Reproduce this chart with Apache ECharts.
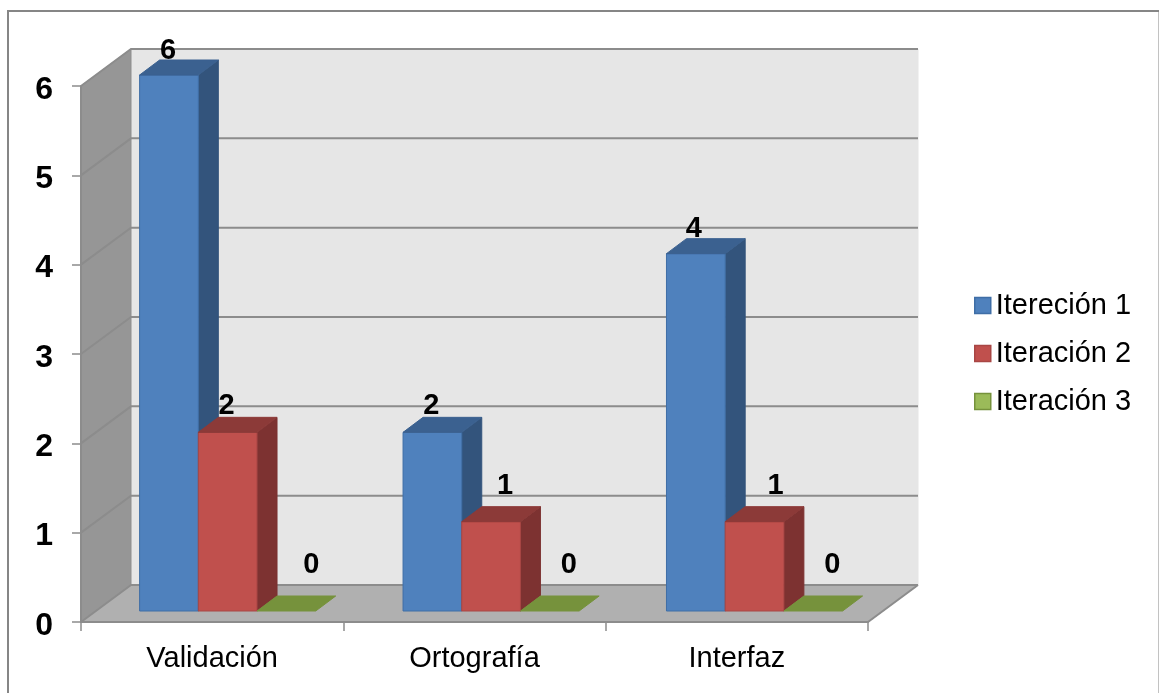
<!DOCTYPE html>
<html>
<head>
<meta charset="utf-8">
<style>html,body{margin:0;padding:0;background:#fff}#chart{width:1159px;height:693px}</style>
<script src="https://cdn.jsdelivr.net/npm/echarts@6/dist/echarts.min.js"></script>
</head>
<body>
<div id="chart"></div>
<script>
// Defectos por iteración y por área
const categories = ['Validación', 'Ortografía', 'Interfaz'];
const seriesNames = ['Itereción 1', 'Iteración 2', 'Iteración 3'];
const iteracion1 = [6, 2, 4];
const iteracion2 = [2, 1, 1];
const iteracion3 = [0, 0, 0];
const yTicks = [0, 1, 2, 3, 4, 5, 6];

// Oblique projection of the chart box and of each column
const BOX_DX = 50, BOX_DY = -37;
const BAR_INSET_X = 15.5, BAR_INSET_Y = -11;
const BAR_DX = 20, BAR_DY = -15;
const BAR_WIDTH = 58.7;
const BAR_GROUP_DRIFT = 1.1;

// Hand-placed value labels, offset from the centre of each column's top edge
const labelOffsets = [
  [[-1, -24], [-1, -26], [25, -46]],
  [[-1, -26], [14, -36], [19, -46]],
  [[-2, -25], [21, -36], [19, -46]]
];

const palette = [
  { front: '#4f81bd', side: '#33547c', top: '#3b6190', edge: '#3f6ea6' },
  { front: '#c0504d', side: '#7d3231', top: '#8c3a38', edge: '#a84644' },
  { front: '#9bbb59', side: '#5f7530', top: '#76923c', edge: '#76923c' }
];

function poly(points, fill, stroke) {
  return {
    type: 'polygon',
    shape: { points },
    style: { fill, stroke: stroke || fill, lineWidth: 1 }
  };
}

function renderBox(params, api) {
  const o = api.coord([0, 0]);
  const t = api.coord([0, yTicks[yTicks.length - 1]]);
  const band = api.coord([1, 0])[0] - o[0];
  const x0 = o[0] - band / 2;
  const y0 = o[1];
  const x1 = x0 + band * categories.length;
  const yt = t[1];
  const dx = BOX_DX, dy = BOX_DY;
  const children = [
    poly([[x0 + dx, yt + dy], [x1 + dx, yt + dy], [x1 + dx, y0 + dy], [x0 + dx, y0 + dy]], '#e6e6e6', '#e6e6e6'),
    poly([[x0, yt], [x0 + dx, yt + dy], [x0 + dx, y0 + dy], [x0, y0]], '#969696', '#8e8e8e'),
    poly([[x0, y0], [x0 + dx, y0 + dy], [x1 + dx, y0 + dy], [x1, y0]], '#b0b0b0', '#b0b0b0')
  ];
  yTicks.forEach(function (v) {
    const y = api.coord([0, v])[1];
    children.push({
      type: 'polyline',
      shape: { points: [[x0, y], [x0 + dx, y + dy], [x1 + dx, y + dy]] },
      style: { stroke: '#8c8c8c', lineWidth: 2, fill: null }
    });
  });
  children.push({
    type: 'polyline',
    shape: { points: [[x1, y0], [x1 + dx, y0 + dy]] },
    style: { stroke: '#8c8c8c', lineWidth: 2, fill: null }
  });
  return { type: 'group', children };
}

function makeBarRenderer(seriesIndex) {
  const c = palette[seriesIndex];
  return function (params, api) {
    const cat = api.value(0);
    const val = api.value(1);
    const base = api.coord([cat, 0]);
    const head = api.coord([cat, val]);
    const x0 = base[0] + BAR_INSET_X + cat * BAR_GROUP_DRIFT + (seriesIndex - 1.5) * BAR_WIDTH;
    const x1 = x0 + BAR_WIDTH;
    const yb = base[1] + BAR_INSET_Y;
    const yt = head[1] + BAR_INSET_Y;
    const dx = BAR_DX, dy = BAR_DY;
    const children = [];
    if (val > 0) {
      children.push(poly([[x1, yb], [x1 + dx, yb + dy], [x1 + dx, yt + dy], [x1, yt]], c.side));
      children.push(poly([[x0, yb], [x1, yb], [x1, yt], [x0, yt]], c.front, c.edge));
    }
    children.push(poly([[x0, yt], [x0 + dx, yt + dy], [x1 + dx, yt + dy], [x1, yt]], c.top));
    const off = labelOffsets[cat][seriesIndex];
    children.push({
      type: 'text',
      z2: 10,
      style: {
        x: (x0 + x1) / 2 + off[0],
        y: yt + off[1],
        text: String(val),
        fill: '#000',
        font: 'bold 29px "Liberation Sans", Arial, sans-serif',
        align: 'center',
        verticalAlign: 'middle'
      }
    });
    return { type: 'group', children };
  };
}

function rows(values) {
  return values.map(function (v, i) { return [i, v]; });
}

const chart = echarts.init(document.getElementById('chart'), null, { renderer: 'canvas' });
chart.setOption({
  animation: false,
  backgroundColor: '#ffffff',
  graphic: [{
    type: 'rect',
    silent: true,
    shape: { x: 8, y: 11, width: 1151.5, height: 700 },
    style: { fill: null, stroke: '#868686', lineWidth: 2 }
  }],
  grid: { left: 81, right: 291, top: 86, bottom: 71, containLabel: false },
  xAxis: {
    type: 'category',
    data: categories,
    axisLine: { lineStyle: { color: '#8c8c8c', width: 2 } },
    axisTick: { show: true, length: 9, alignWithLabel: false, lineStyle: { color: '#8c8c8c', width: 1.5 } },
    axisLabel: { color: '#000', fontFamily: '"Liberation Sans", Arial, sans-serif', fontSize: 29, margin: 22 },
    splitLine: { show: false },
    z: 5
  },
  yAxis: {
    type: 'value',
    min: 0,
    max: 6,
    interval: 1,
    axisLine: { show: true, lineStyle: { color: '#8c8c8c', width: 2 } },
    axisTick: { show: true, length: 9, lineStyle: { color: '#8c8c8c', width: 1.5 } },
    axisLabel: { color: '#000', fontFamily: '"Liberation Sans", Arial, sans-serif', fontSize: 32, fontWeight: 'bold', margin: 28, verticalAlign: 'top', lineHeight: 8 },
    splitLine: { show: false },
    z: 5
  },
  legend: {
    orient: 'vertical',
    left: 974,
    top: 291,
    padding: 0,
    itemWidth: 16,
    itemHeight: 16,
    itemGap: 19,
    icon: 'rect',
    textStyle: { color: '#000', fontFamily: '"Liberation Sans", Arial, sans-serif', fontSize: 29 },
    data: seriesNames.map(function (name, i) {
      return { name, itemStyle: { color: palette[i].front, borderColor: palette[i].edge, borderWidth: 1.5 } };
    })
  },
  series: [
    { type: 'custom', name: 'box', silent: true, z: 1, data: [[0, 0]], renderItem: renderBox, clip: false }
  ].concat([iteracion1, iteracion2, iteracion3].map(function (values, i) {
    return {
      type: 'custom',
      name: seriesNames[i],
      z: 2 + i,
      itemStyle: { color: palette[i].front },
      data: rows(values),
      encode: { x: 0, y: 1 },
      renderItem: makeBarRenderer(i),
      clip: false
    };
  }))
});
</script>
</body>
</html>
